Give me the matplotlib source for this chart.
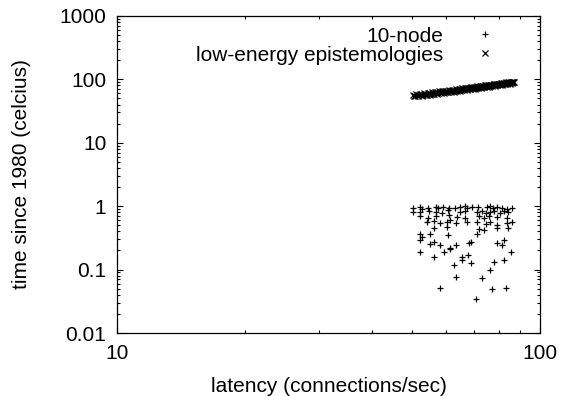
import matplotlib
matplotlib.use("Agg")
import matplotlib.pyplot as plt
from matplotlib.ticker import FixedLocator, FuncFormatter, LogLocator

plt.rcParams["font.family"] = ["Liberation Sans", "DejaVu Sans"]

# serie "10-node" (+)
node_x = [
    50.2, 52.2, 52.7, 54.3, 56.7, 57.4, 59.1, 60.9, 62.9, 64.9,
    66.7, 67.4, 69.2, 71.4, 75.1, 76.2, 77.6, 79.4, 81.6, 83.8, 86.1,
    50.2, 52.2, 54.6, 57.0, 58.8, 60.6, 64.9, 66.7, 71.1, 73.1,
    74.5, 76.5, 78.2, 80.5, 82.6, 84.1,
    52.0, 54.3, 57.0, 60.9, 63.8, 66.7, 71.8, 73.8, 75.8, 79.4, 83.8,
    54.1, 56.1, 58.2, 60.4, 61.5, 63.5, 67.4, 71.1, 74.5, 76.5,
    79.4, 83.8, 86.1,
    56.1, 60.4, 71.8, 73.8, 79.4, 84.1,
    52.0, 52.7, 54.9, 60.6, 71.1,
    52.0, 82.6,
    54.9, 56.1, 58.2, 61.5, 63.5, 68.0, 68.9, 79.4, 81.6,
    52.0, 59.3, 61.3, 85.7,
    56.1, 65.5, 67.6,
    65.5, 78.2, 82.3,
    62.6, 68.9,
    76.2,
    63.5, 73.1,
    58.2, 77.2, 83.5,
    70.9,
]
node_y = [
    0.93, 0.96, 0.90, 0.95, 0.98, 0.93, 0.97, 0.92, 0.95, 0.97,
    0.99, 0.94, 0.98, 0.96, 0.97, 1.00, 0.95, 0.96, 0.93, 0.91, 0.95,
    0.82, 0.80, 0.84, 0.82, 0.78, 0.86, 0.80, 0.83, 0.81, 0.84,
    0.78, 0.80, 0.85, 0.79, 0.83, 0.81,
    0.70, 0.66, 0.69, 0.72, 0.67, 0.64, 0.70, 0.66, 0.71, 0.68, 0.65,
    0.56, 0.58, 0.54, 0.57, 0.60, 0.55, 0.57, 0.56, 0.52, 0.57,
    0.50, 0.55, 0.57,
    0.45, 0.47, 0.44, 0.42, 0.46, 0.45,
    0.36, 0.33, 0.37, 0.35, 0.36,
    0.29, 0.29,
    0.25, 0.27, 0.24, 0.22, 0.24, 0.26, 0.27, 0.26, 0.24,
    0.19, 0.19, 0.21, 0.19,
    0.16, 0.16, 0.17,
    0.14, 0.13, 0.14,
    0.12, 0.125,
    0.099,
    0.077, 0.074,
    0.052, 0.050, 0.052,
    0.035,
]

# serie "low-energy epistemologies" (x)
epis_x = [
    50.2, 50.8, 51.3, 51.9, 52.4, 53.0, 53.5, 54.1, 54.7, 55.2,
    55.8, 56.3, 56.9, 57.4, 58.0, 58.6, 59.1, 59.7, 60.2, 60.8,
    61.3, 61.9, 62.5, 63.0, 63.6, 64.1, 64.7, 65.2, 65.8, 66.4,
    66.9, 67.5, 68.0, 68.6, 69.1, 69.7, 70.3, 70.8, 71.4, 71.9,
    72.5, 73.0, 73.6, 74.2, 74.7, 75.3, 75.8, 76.4, 76.9, 77.5,
    78.1, 78.6, 79.2, 79.7, 80.3, 80.8, 81.4, 82.0, 82.5, 83.1,
    83.6, 84.2, 84.7, 85.3, 85.9, 86.4, 87.0,
    50.5, 51.0, 51.6, 52.1, 52.7, 53.2, 53.8, 54.4, 54.9, 55.5,
    56.0, 56.6, 57.1, 57.7, 58.3, 58.8, 59.4, 59.9, 60.5, 61.0,
    61.6, 62.2, 62.7, 63.3, 63.8, 64.4, 64.9, 65.5, 66.1, 66.6,
    67.2, 67.7, 68.3, 68.8, 69.4, 70.0, 70.5, 71.1, 71.6, 72.2,
    72.7, 73.3, 73.9, 74.4, 75.0, 75.5, 76.1, 76.6, 77.2, 77.8,
    78.3, 78.9, 79.4, 80.0, 80.5, 81.1, 81.7, 82.2, 82.8, 83.3,
    83.9, 84.4, 85.0, 85.6, 86.1, 86.7,
]
epis_y = [
    56.1, 54.2, 57.0, 55.8, 58.3, 56.1, 59.4, 57.2, 60.1, 58.6,
    61.4, 59.3, 62.5, 60.8, 63.1, 62.0, 64.6, 62.9, 65.8, 64.0,
    66.2, 65.7, 67.9, 66.3, 68.8, 67.6, 69.9, 68.4, 71.2, 69.8,
    72.1, 70.9, 73.5, 71.7, 74.3, 73.2, 75.6, 74.0, 76.8, 75.1,
    77.9, 76.4, 78.7, 77.5, 80.1, 78.6, 80.9, 79.7, 82.3, 80.5,
    83.4, 81.9, 84.0, 83.1, 85.6, 83.9, 86.4, 85.2, 87.5, 86.1,
    88.3, 87.6, 89.9, 88.2, 90.6, 89.7, 91.4,
    53.6, 57.9, 53.9, 59.0, 55.2, 59.8, 56.0, 61.2, 56.9, 62.0,
    58.1, 63.4, 58.9, 64.3, 60.2, 65.1, 61.0, 66.5, 61.9, 67.3,
    63.2, 68.6, 64.1, 69.5, 65.0, 70.9, 66.1, 71.6, 67.0, 72.8,
    68.2, 73.9, 69.3, 74.6, 70.4, 75.9, 71.2, 77.1, 72.3, 78.0,
    73.6, 79.2, 74.5, 80.3, 75.4, 81.6, 76.6, 82.4, 77.8, 83.5,
    78.8, 84.9, 79.9, 85.7, 80.7, 87.0, 82.0, 87.8, 83.1, 89.1,
    84.2, 90.0, 85.1, 91.3, 86.4, 92.2,
]

xticks = [10, 100]
yticks = [0.01, 0.1, 1, 10, 100, 1000]

fig = plt.figure(figsize=(5.62, 3.96), dpi=100)
ax = fig.add_axes([0.209, 0.159, 0.751, 0.801])

ax.plot(node_x, node_y, ls="none", marker="+", ms=4.5, mew=0.9,
        color="black", label="10-node")
ax.plot(epis_x, epis_y, ls="none", marker="x", ms=4.5, mew=0.9,
        color="black", label="low-energy epistemologies")

ax.set_xscale("log")
ax.set_yscale("log")
ax.set_xlim(10, 100)
ax.set_ylim(0.01, 1000)

fmt = FuncFormatter(lambda v, p: "%g" % v)
ax.xaxis.set_major_locator(FixedLocator(xticks))
ax.yaxis.set_major_locator(FixedLocator(yticks))
ax.xaxis.set_major_formatter(fmt)
ax.yaxis.set_major_formatter(fmt)
ax.xaxis.set_minor_locator(LogLocator(base=10, subs=range(2, 10)))
ax.yaxis.set_minor_locator(LogLocator(base=10, subs=range(2, 10), numticks=20))
ax.xaxis.set_minor_formatter(FuncFormatter(lambda v, p: ""))
ax.yaxis.set_minor_formatter(FuncFormatter(lambda v, p: ""))

ax.tick_params(which="both", direction="in", top=True, right=True,
               labelsize=15, width=0.8)
ax.tick_params(which="major", length=4.5, pad=8)
ax.tick_params(which="minor", length=2.5)
for s in ax.spines.values():
    s.set_linewidth(0.9)

ax.set_xlabel("latency (connections/sec)", fontsize=15)
ax.set_ylabel("time since 1980 (celcius)", fontsize=15)
ax.xaxis.set_label_coords(0.5, -0.14)
ax.yaxis.set_label_coords(-0.204, 0.5)

# leyenda a la derecha, marcador después del texto
ax.legend(loc="upper right", bbox_to_anchor=(0.925, 1.0), frameon=False,
          markerfirst=False, fontsize=15, handlelength=1.2,
          handletextpad=1.4, labelspacing=0.0, borderaxespad=0.12)

fig.savefig("out.png", dpi=100)
